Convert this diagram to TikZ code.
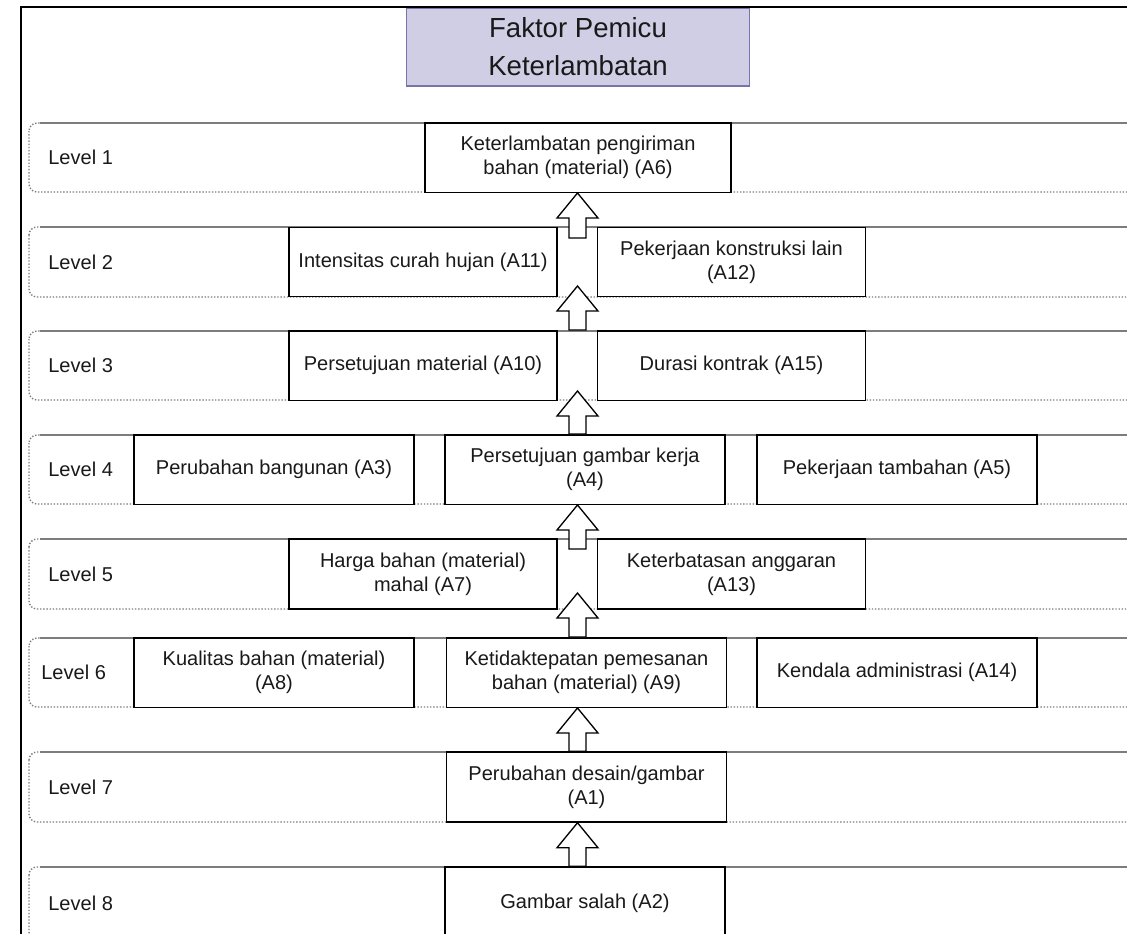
\documentclass[tikz,border=0pt]{standalone}
\usepackage{fontspec}
\setmainfont{Liberation Sans}
\usepackage{tikz}
\usetikzlibrary{calc}
\definecolor{TextDark}{RGB}{25, 25, 25}
\definecolor{BandGray}{RGB}{125, 125, 125}
\definecolor{TitleFill}{RGB}{208, 206, 228}
\definecolor{TitleLine}{RGB}{120, 115, 170}

% hollow up arrow from bottom point #1 to tip #2
\newcommand{\blockup}[2]{%
  \draw[blockarr] ($(#1)+(-8.5,0)$) -- ($(#2)+(-8.5,25)$) -- ($(#2)+(-20.5,25)$)
    -- (#2) -- ($(#2)+(20.5,25)$) -- ($(#2)+(8.5,25)$) -- ($(#1)+(8.5,0)$) -- cycle;}

\begin{document}
\begin{tikzpicture}[x=0.02cm, y=-0.02cm,
  box/.style={draw=black, fill=white, line width=0.85pt, inner sep=0pt,
    minimum width=5.6cm, minimum height=1.39cm,
    align=center, font=\fontsize{11.4}{13.7}\selectfont\color{TextDark}},
  nbox/.style={box, minimum width=5.36cm},
  band/.style={draw=BandGray, densely dotted, line width=0.8pt, rounded corners=0.16cm},
  bandtop/.style={draw=BandGray, line width=0.9pt},
  lvl/.style={anchor=west, inner sep=0pt, font=\fontsize{11.4}{13.7}\selectfont\color{TextDark}},
  blockarr/.style={draw=black, fill=white, line width=0.75pt, line join=miter}
]
\useasboundingbox (0,0) rectangle (1127,934);
\clip (0,0) rectangle (1127,934);

% Level bands
\foreach \n/\t/\b/\lx in {1/123/192/48, 2/227/297/48, 3/331/400/48, 4/435/504/48,
                          5/539/609/48, 6/638/707/41, 7/752/822/48, 8/867/940/48} {
  \draw[band] (29,\t) rectangle (1170,\b);
  \draw[bandtop] (40,\t) -- (1170,\t);
  \node[lvl] (lv\n) at (\lx,{(\t+\b)/2}) {Level \n};
}

% Title
\node[draw=TitleLine, fill=TitleFill, line width=0.6pt, inner sep=0pt,
      minimum width=6.88cm, minimum height=1.56cm,
      align=center, font=\fontsize{15.7}{21.6}\selectfont\color{TextDark}]
  (title) at (578,47) {Faktor Pemicu\\Keterlambatan};

% Factors per level
\node[box, minimum width=6.12cm] (a6) at (578,157.5) {Keterlambatan pengiriman\\bahan (material) (A6)};

\node[nbox] (a11) at (423,262)   {Intensitas curah hujan (A11)};
\node[nbox] (a12) at (731.5,262) {Pekerjaan konstruksi lain\\(A12)};

\node[nbox] (a10) at (423,365.5)   {Persetujuan material (A10)};
\node[nbox] (a15) at (731.5,365.5) {Durasi kontrak (A15)};

\node[box] (a3) at (274,469.5) {Perubahan bangunan (A3)};
\node[box] (a4) at (585,469.5) {Persetujuan gambar kerja\\(A4)};
\node[box] (a5) at (897,469.5) {Pekerjaan tambahan (A5)};

\node[nbox, minimum height=1.4cm] (a7)  at (423,574)   {Harga bahan (material)\\mahal (A7)};
\node[nbox, minimum height=1.4cm] (a13) at (731.5,574) {Keterbatasan anggaran\\(A13)};

\node[box] (a8)  at (274,672.5)   {Kualitas bahan (material)\\(A8)};
\node[box] (a9)  at (586.5,672.5) {Ketidaktepatan pemesanan\\bahan (material) (A9)};
\node[box] (a14) at (897,672.5)   {Kendala administrasi (A14)};

\node[box, minimum height=1.4cm] (a1) at (586.5,787) {Perubahan desain/gambar\\(A1)};

\node[box, minimum height=1.46cm] (a2) at (585,903.5) {Gambar salah (A2)};

% Arrow column
\coordinate (ax) at (577.5,0);
\coordinate (t1) at (a6.south -| ax);
\coordinate (b1) at ($(t1)+(0,45)$);
\coordinate (b2) at (a10.north -| ax);
\coordinate (t2) at ($(b2)+(0,-44)$);
\coordinate (b3) at (a4.north -| ax);
\coordinate (t3) at ($(b3)+(0,-43)$);
\coordinate (t4) at (a4.south -| ax);
\coordinate (b4) at ($(t4)+(0,44)$);
\coordinate (b5) at (a9.north -| ax);
\coordinate (t5) at ($(b5)+(0,-44)$);
\coordinate (b6) at (a1.north -| ax);
\coordinate (t6) at (a9.south -| ax);
\coordinate (b7) at (a2.north -| ax);
\coordinate (t7) at (a1.south -| ax);

\blockup{b1}{t1}
\blockup{b2}{t2}
\blockup{b3}{t3}
\blockup{b4}{t4}
\blockup{b5}{t5}
\blockup{b6}{t6}
\blockup{b7}{t7}

% Frame
\draw[line width=1.5pt] (21,960) -- (21,7) -- (1140,7);
\end{tikzpicture}
\end{document}
